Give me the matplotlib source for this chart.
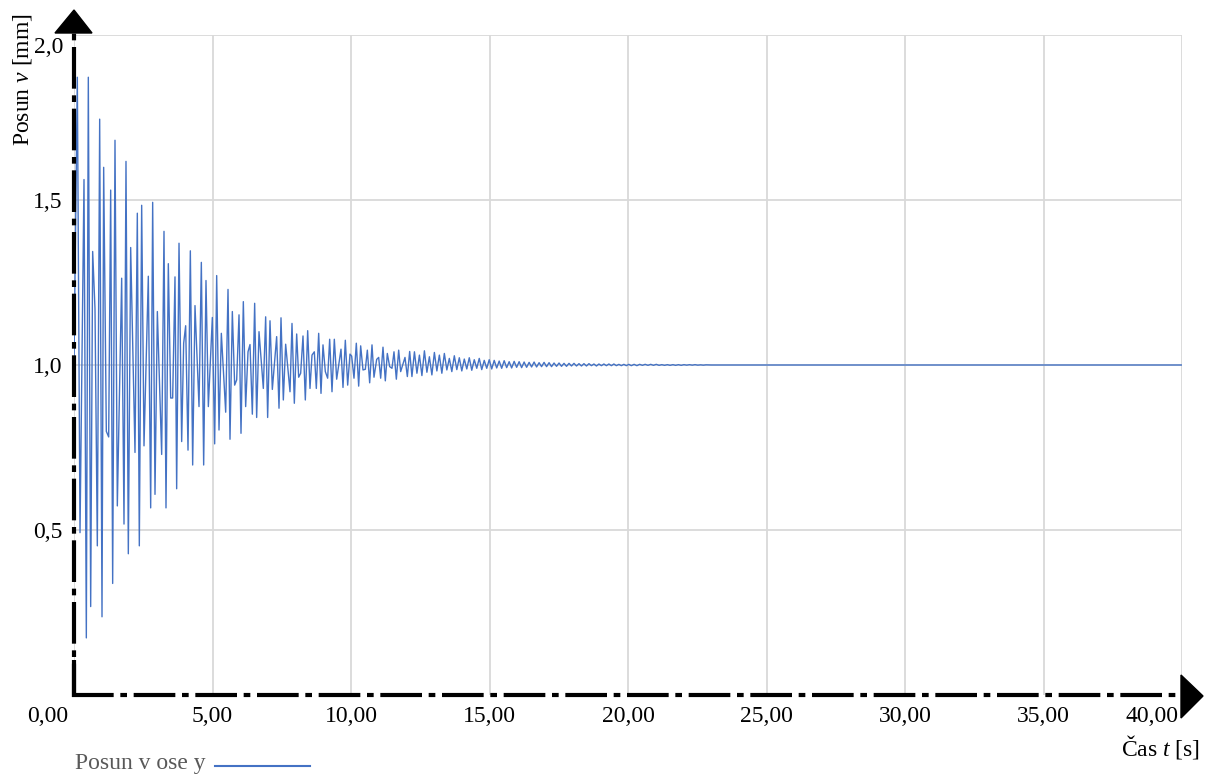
import matplotlib
matplotlib.use("Agg")
import matplotlib.pyplot as plt
import matplotlib.transforms as mtransforms
from matplotlib.lines import Line2D
from matplotlib.patches import Polygon
import numpy as np

# ===== Data: displacement in y direction [mm] over time [s] =====
# turning points of the damped response, read in segments
t_start = [0.000, 0.120, 0.217, 0.361, 0.445, 0.517, 0.602, 0.674, 0.758, 0.842,
           0.927, 1.011, 1.071, 1.167, 1.252, 1.324, 1.396, 1.480, 1.564, 1.721,
           1.805, 1.877, 1.961, 2.046, 2.202, 2.286, 2.358, 2.443, 2.527, 2.683,
           2.768, 2.840, 2.924, 3.009, 3.165, 3.249, 3.321, 3.405, 3.490, 3.562,
           3.646, 3.706, 3.791, 3.887, 3.959]
v_start = [1.000, 1.872, 0.492, 1.562, 0.173, 1.872, 0.268, 1.344, 1.170, 0.452,
           1.745, 0.237, 1.599, 0.799, 0.782, 1.530, 0.338, 1.681, 0.573, 1.263,
           0.518, 1.617, 0.428, 1.356, 0.735, 1.460, 0.452, 1.484, 0.755, 1.269,
           0.567, 1.493, 0.608, 1.162, 0.729, 1.405, 0.567, 1.307, 0.900, 0.900,
           1.267, 0.625, 1.369, 0.768, 1.066]

t_mid = [4.031, 4.116, 4.200, 4.284, 4.368, 4.513, 4.597, 4.681, 4.765, 4.850,
         4.994, 5.078, 5.151, 5.235, 5.319, 5.476, 5.560, 5.632, 5.716, 5.800,
         5.873, 5.957, 6.029, 6.113, 6.197, 6.282, 6.354, 6.438, 6.522, 6.594,
         6.679, 6.835, 6.919, 6.991, 7.076, 7.160, 7.316, 7.401, 7.473, 7.557,
         7.641, 7.798, 7.870, 7.954]
v_mid = [1.119, 0.742, 1.346, 0.697, 1.180, 0.874, 1.311, 0.697, 1.256, 0.874,
         1.144, 0.761, 1.271, 0.803, 1.096, 0.857, 1.229, 0.775, 1.162, 0.939,
         0.955, 1.152, 0.793, 1.192, 0.874, 1.040, 1.062, 0.851, 1.187, 0.841,
         1.101, 0.929, 1.146, 0.841, 1.134, 0.926, 1.086, 0.869, 1.143, 0.894,
         1.063, 0.919, 1.126, 0.884]

t_late = [8.039, 8.111, 8.183, 8.267, 8.351, 8.436, 8.520, 8.592, 8.676, 8.748,
          8.833, 8.917, 8.989, 9.073, 9.157, 9.230, 9.314, 9.398, 9.483, 9.639,
          9.711, 9.795, 9.880, 9.964, 10.024, 10.108, 10.192, 10.277, 10.349, 10.433,
          10.517, 10.590, 10.674, 10.758, 10.830, 10.927, 10.999, 11.071, 11.155, 11.239,
          11.311, 11.396, 11.480, 11.552, 11.637, 11.721, 11.793, 11.949, 12.034, 12.118]
v_late = [1.094, 0.963, 0.975, 1.088, 0.894, 1.104, 0.929, 1.030, 1.040, 0.929,
          1.096, 0.914, 1.061, 0.980, 0.960, 1.078, 0.919, 1.078, 0.957, 1.048,
          0.932, 1.075, 0.939, 1.033, 1.027, 0.960, 1.066, 0.936, 1.058, 0.985,
          0.987, 1.045, 0.946, 1.061, 0.963, 1.017, 1.023, 0.960, 1.054, 0.952,
          1.035, 0.995, 0.990, 1.040, 0.957, 1.045, 0.980, 1.023, 0.965, 1.041]

t_decay = [12.20, 12.29, 12.38, 12.47, 12.56, 12.65, 12.74, 12.83, 12.92, 13.01,
           13.10, 13.19, 13.28, 13.37, 13.46, 13.55, 13.64, 13.73, 13.82, 13.91,
           14.00, 14.09, 14.18, 14.27, 14.36, 14.45, 14.54, 14.63, 14.72, 14.81,
           14.90, 14.99, 15.08, 15.17, 15.26, 15.35, 15.44, 15.53, 15.62, 15.71,
           15.80, 15.89, 15.98, 16.07, 16.16, 16.25, 16.34, 16.43, 16.52, 16.61,
           16.70, 16.79, 16.88, 16.97]
v_decay = [0.965, 1.040, 0.975, 1.030, 0.968, 1.043, 0.978, 1.025, 0.970, 1.038,
           0.982, 1.030, 0.975, 1.035, 0.985, 1.020, 0.980, 1.028, 0.986, 1.022,
           0.982, 1.018, 0.988, 1.022, 0.984, 1.016, 0.990, 1.020, 0.986, 1.014,
           0.990, 1.016, 0.988, 1.014, 0.991, 1.012, 0.990, 1.013, 0.992, 1.010,
           0.991, 1.011, 0.993, 1.010, 0.992, 1.009, 0.993, 1.008, 0.994, 1.009,
           0.994, 1.007, 0.995, 1.008]

t_tail = [17.06, 17.15, 17.24, 17.33, 17.42, 17.51, 17.60, 17.69, 17.78, 17.87,
          17.96, 18.05, 18.14, 18.23, 18.32, 18.41, 18.50, 18.59, 18.68, 18.77,
          18.86, 18.95, 19.04, 19.13, 19.22, 19.31, 19.40, 19.49, 19.58, 19.67,
          19.76, 19.85, 19.94, 20.03, 20.12, 20.22, 20.32, 20.42, 20.52, 20.62,
          20.72, 20.82, 20.92, 21.02, 21.12, 21.22, 21.32, 21.42, 21.52, 21.62,
          21.72, 21.82, 21.92, 22.02, 22.12, 22.22, 22.32, 22.42, 22.52, 22.62,
          22.72, 22.82, 23.00, 40.00]
v_tail = [0.995, 1.007, 0.995, 1.006, 0.996, 1.006, 0.996, 1.005, 0.996, 1.005,
          0.997, 1.005, 0.997, 1.004, 0.997, 1.004, 0.997, 1.004, 0.998, 1.003,
          0.997, 1.003, 0.998, 1.003, 0.998, 1.003, 0.998, 1.003, 0.998, 1.002,
          0.998, 1.002, 0.998, 1.002, 0.998, 1.002, 0.998, 1.002, 0.999, 1.002,
          0.999, 1.002, 0.999, 1.002, 0.999, 1.001, 0.999, 1.001, 0.999, 1.001,
          0.999, 1.001, 0.999, 1.001, 0.9995, 1.001, 0.9995, 1.001, 0.9995, 1.0005,
          0.9995, 1.0005, 1.000, 1.000]

x_ticks = [0, 5, 10, 15, 20, 25, 30, 35, 40]
x_tick_labels = ["0,00", "5,00", "10,00", "15,00", "20,00", "25,00", "30,00", "35,00", "40,00"]
y_ticks = [0.5, 1.0, 1.5, 2.0]
y_tick_labels = ["0,5", "1,0", "1,5", "2,0"]

LINE_COLOR = "#4472C4"
GRID_COLOR = "#D9D9D9"
FONT_SIZE = 17
W, H = 1213, 776

plt.rcParams["font.family"] = ["Liberation Serif", "DejaVu Serif"]
plt.rcParams["mathtext.fontset"] = "custom"
plt.rcParams["mathtext.rm"] = "Liberation Serif"
plt.rcParams["mathtext.it"] = "Liberation Serif:italic"


def px(x, y):
    """Pixel position (from top-left) -> figure fraction."""
    return x / W, 1 - y / H


t = np.concatenate([t_start, t_mid, t_late, t_decay, t_tail])
v = np.concatenate([v_start, v_mid, v_late, v_decay, v_tail])

fig = plt.figure(figsize=(W / 100, H / 100), dpi=100)
left, bottom = px(74, 695)
right, top = px(1182, 35)
ax = fig.add_axes([left, bottom, right - left, top - bottom])

ax.plot(t, v, color=LINE_COLOR, linewidth=1.0, zorder=3)

ax.set_xlim(0, 40)
ax.set_ylim(0, 2.0)
ax.set_xticks(x_ticks)
ax.set_xticklabels(x_tick_labels)
ax.set_yticks(y_ticks)
ax.set_yticklabels(y_tick_labels)
ax.grid(True, color=GRID_COLOR, linewidth=1.3, zorder=0)
ax.set_axisbelow(True)
for s in ax.spines.values():
    s.set_visible(False)
ax.tick_params(axis="both", length=0, labelsize=FONT_SIZE, colors="black")
ax.tick_params(axis="x", pad=8)
ax.tick_params(axis="y", pad=8)

# nudge the end labels so they clear the axis arrows
xl = ax.get_xticklabels()
xl[0].set_horizontalalignment("right")
xl[0].set_transform(xl[0].get_transform() + mtransforms.ScaledTranslation(-0.06, 0, fig.dpi_scale_trans))
xl[-1].set_horizontalalignment("right")
xl[-1].set_transform(xl[-1].get_transform() + mtransforms.ScaledTranslation(-0.04, 0, fig.dpi_scale_trans))
yl = ax.get_yticklabels()
yl[-1].set_transform(yl[-1].get_transform() + mtransforms.ScaledTranslation(0, -0.10, fig.dpi_scale_trans))

# dash-dot axes with arrow heads
dashdot = (0, (10, 1.6, 1.6, 1.6))
x0, y0 = px(74, 697)
x1, y1 = px(74, 20)
fig.add_artist(Line2D([x0, x1], [y0, y1], transform=fig.transFigure, color="black",
                      linewidth=3, linestyle=(2, (10, 1.6, 1.6, 1.6)), dash_capstyle="butt"))
fig.add_artist(Line2D([x0, x0], [y0, px(74, 660)[1]], transform=fig.transFigure,
                      color="black", linewidth=3, solid_capstyle="butt"))
xa, ya = px(72, 695)
xb, _ = px(1184, 695)
fig.add_artist(Line2D([xa, xb], [ya, ya], transform=fig.transFigure, color="black",
                      linewidth=3, linestyle=dashdot, dash_capstyle="butt"))
fig.add_artist(Polygon([px(74, 10), px(55, 33), px(92, 33)], closed=True,
                       transform=fig.transFigure, color="black"))
fig.add_artist(Polygon([px(1203, 696), px(1181, 675), px(1181, 718)], closed=True,
                       transform=fig.transFigure, color="black"))

# axis titles
fig.text(*px(22, 80), "Posun $\\mathit{v}$ [mm]", rotation=90, ha="center", va="center",
         fontsize=FONT_SIZE)
fig.text(*px(1200, 747), "Čas $\\mathit{t}$ [s]", ha="right", va="center", fontsize=FONT_SIZE)

# legend entry below the plot
fig.text(*px(75, 764), "Posun v ose y", ha="left", va="center", fontsize=FONT_SIZE,
         color="#595959")
lx0, ly = px(215, 766)
lx1, _ = px(310, 766)
fig.add_artist(Line2D([lx0, lx1], [ly, ly], transform=fig.transFigure, color=LINE_COLOR,
                      linewidth=1.5))

fig.savefig("out.png", dpi=100)
